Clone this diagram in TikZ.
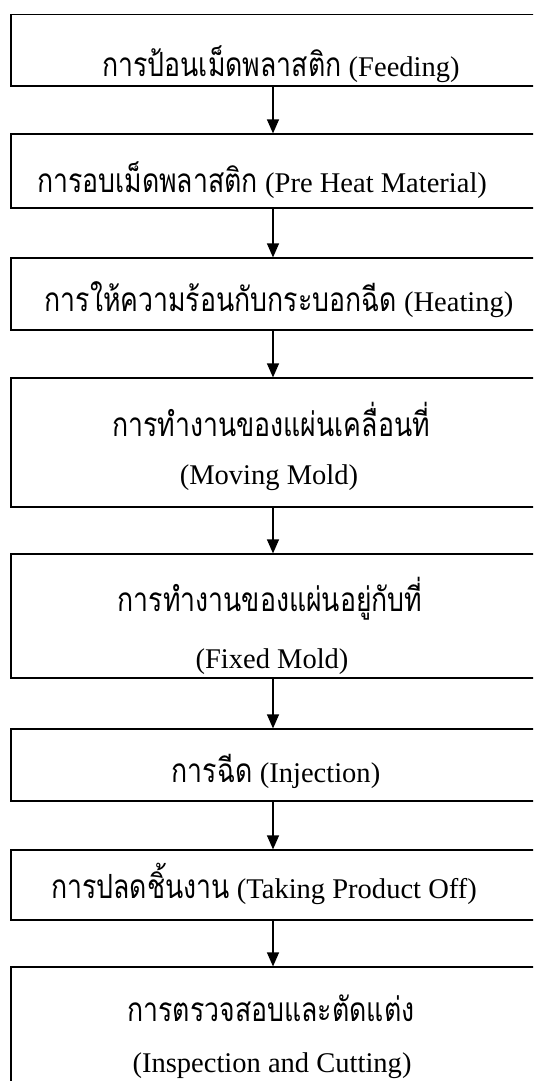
\documentclass[tikz,border=0pt]{standalone}
\usepackage{fontspec}
\usepackage{graphicx}
\setmainfont{Liberation Serif}
\newfontfamily\thaifont[Script=Thai]{Loma}
\usetikzlibrary{arrows.meta}
\newdimen\pxu \pxu=0.75pt
\newcommand{\thtxt}[1]{\scalebox{0.8}[1]{\thaifont\fontsize{25}{30}\selectfont #1}}
\tikzset{
  stepbox/.style={draw, line width=0.9pt, rectangle, inner sep=0pt},
  label/.style={anchor=base, inner sep=0pt, font=\fontsize{21.4}{26}\selectfont},
  arr/.style={line width=0.9pt, -{Triangle[width=9pt,length=10.5pt]}}
}
\begin{document}
\begin{tikzpicture}[x=0.75pt,y=-0.75pt]
\useasboundingbox (0,0) rectangle (533,1081);
\clip (0,0) rectangle (533,1081);
\coordinate (ax) at (273,0);
% boxes
\node[stepbox, minimum width=534\pxu, minimum height=71.5\pxu] (b1) at (278,50.25) {};
\node[stepbox, minimum width=534\pxu, minimum height=74\pxu] (b2) at (278,171) {};
\node[stepbox, minimum width=534\pxu, minimum height=72\pxu] (b3) at (278,294) {};
\node[stepbox, minimum width=534\pxu, minimum height=129\pxu] (b4) at (278,442.5) {};
\node[stepbox, minimum width=534\pxu, minimum height=124\pxu] (b5) at (278,616) {};
\node[stepbox, minimum width=534\pxu, minimum height=72\pxu] (b6) at (278,765) {};
\node[stepbox, minimum width=534\pxu, minimum height=70\pxu] (b7) at (278,885) {};
\node[stepbox, minimum width=534\pxu, minimum height=133\pxu] (b8) at (278,1033.5) {};
% texts
\node[label] (t1) at (281,76) {\thtxt{การป้อนเม็ดพลาสติก} (Feeding)};
\node[label] (t2) at (262,192) {\thtxt{การอบเม็ดพลาสติก} (Pre Heat Material)};
\node[label] (t3) at (279,311) {\thtxt{การให้ความร้อนกับกระบอกฉีด} (Heating)};
\node[label] (t4a) at (271,436) {\thtxt{การทำงานของแผ่นเคลื่อนที่}};
\node[label] (t4b) at (269,484) {(Moving Mold)};
\node[label] (t5a) at (270,611) {\thtxt{การทำงานของแผ่นอยู่กับที่}};
\node[label] (t5b) at (272,668) {(Fixed Mold)};
\node[label] (t6) at (276,782) {\thtxt{การฉีด} (Injection)};
\node[label] (t7) at (264,898) {\thtxt{การปลดชิ้นงาน} (Taking Product Off)};
\node[label] (t8a) at (271,1021) {\thtxt{การตรวจสอบและตัดแต่ง}};
\node[label] (t8b) at (272,1072) {(Inspection and Cutting)};
% arrows
\draw[arr] (b1.south -| ax) -- (b2.north -| ax);
\draw[arr] (b2.south -| ax) -- (b3.north -| ax);
\draw[arr] (b3.south -| ax) -- (b4.north -| ax);
\draw[arr] (b4.south -| ax) -- (b5.north -| ax);
\draw[arr] (b5.south -| ax) -- (b6.north -| ax);
\draw[arr] (b6.south -| ax) -- (b7.north -| ax);
\draw[arr] (b7.south -| ax) -- (b8.north -| ax);
\end{tikzpicture}
\end{document}
